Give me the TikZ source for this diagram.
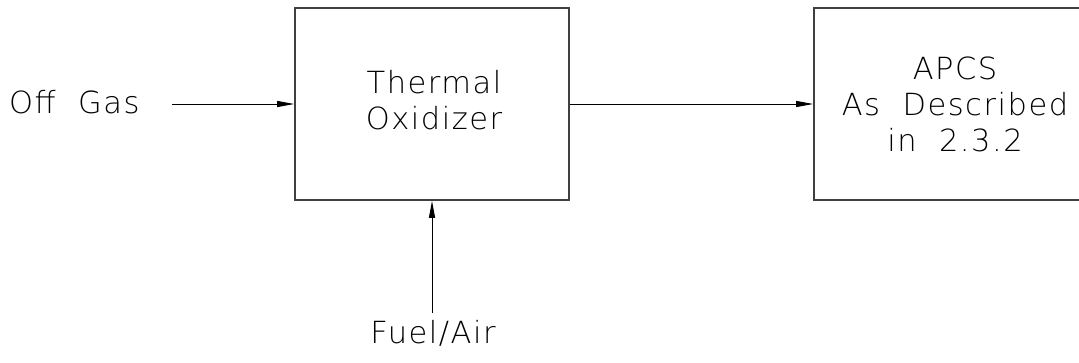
\documentclass[tikz,border=0pt]{standalone}
\usepackage{fontspec}
\newfontfamily\cadfont[LetterSpace=5,WordSpace=2]{DejaVu Sans ExtraLight}
\usetikzlibrary{arrows.meta}
\begin{document}
\begin{tikzpicture}[x=1pt,y=-1pt,
  box/.style={draw=black!75,line width=1.6pt,rectangle,inner sep=0pt},
  lbl/.style={font=\cadfont\fontsize{30.5}{36}\selectfont,inner sep=0pt,align=center},
  arr/.style={line width=1pt,-{Triangle[length=17pt,width=6pt]}}]
\useasboundingbox (0,0) rectangle (1079,362);
\clip (0,0) rectangle (1079,362);
\node[box,minimum width=274pt,minimum height=192pt] (thermal) at (432,104) {};
\node[box,minimum width=282pt,minimum height=192pt] (apcs) at (955,104) {};
\node[lbl,anchor=base] (thermaltext) at (434,129) {Thermal\\Oxidizer};
\node[lbl,anchor=base] (apcstext) at (955,151) {APCS\\As Described\\in 2.3.2};
\node[lbl,anchor=base west] (offgas) at (9,113) {Off Gas};
\node[lbl,anchor=base] (fuel) at (433,343) {Fuel/Air};
\coordinate (ogstart) at (172,104);
\coordinate (fuelstart) at (432,313);
\draw[arr] (ogstart) -- (thermal.west);
\draw[arr] (thermal.east) -- (apcs.west);
\draw[arr] (fuelstart) -- (thermal.south);
\end{tikzpicture}
\end{document}
